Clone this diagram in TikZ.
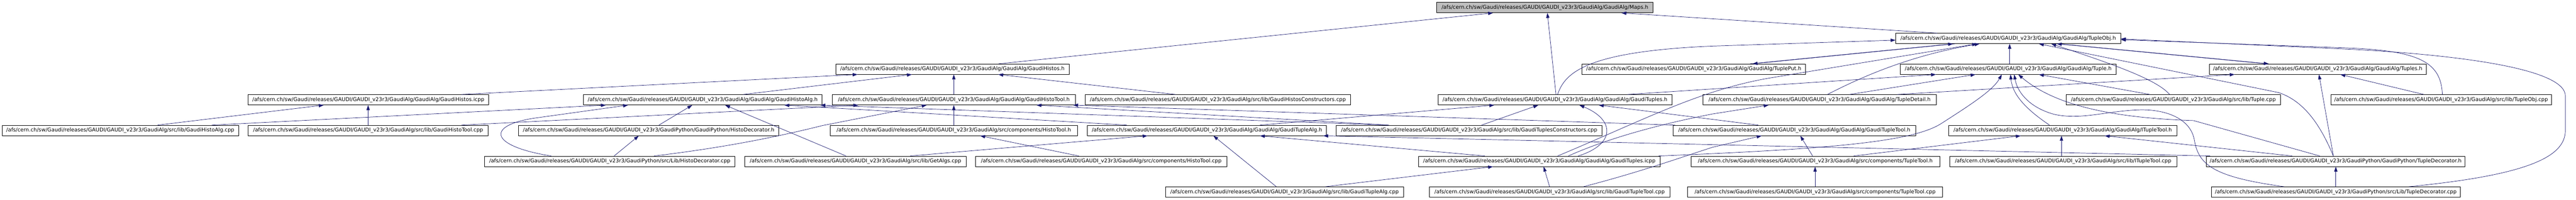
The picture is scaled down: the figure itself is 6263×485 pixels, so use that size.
\documentclass[tikz,border=0pt]{standalone}
\usepackage{fontspec}
\setmainfont{DejaVu Sans}
\usetikzlibrary{arrows.meta}
\definecolor{edgeblue}{RGB}{25,25,112}
\definecolor{mapsgray}{RGB}{191,191,191}
\newcommand{\gpre}{/afs/cern.ch/sw/Gaudi/releases/GAUDI/GAUDI\_v23r3/}
\begin{document}
\begin{tikzpicture}[x=1pt,y=-1pt,
  box/.style={draw=black, line width=0.9pt, fill=white, minimum height=25pt,
    inner xsep=8pt, inner ysep=0pt, font=\fontsize{12.7}{15}\selectfont, text=black},
  edge/.style={draw=edgeblue, line width=0.9pt, -{Triangle[length=12pt,width=8pt]}}]
\fill[white] (0,0) rectangle (6263,485);
\useasboundingbox (0,0) rectangle (6263,485);

% row 0
\node[box, fill=mapsgray, minimum width=526pt] (maps) at (3756,18.5) {\gpre GaudiAlg/GaudiAlg/Maps.h};
% row 1
\node[box, minimum width=547pt] (tobjh) at (4882.5,93.5) {\gpre GaudiAlg/GaudiAlg/TupleObj.h};
% row 2
\node[box, minimum width=567pt] (histosh) at (2315.5,168) {\gpre GaudiAlg/GaudiAlg/GaudiHistos.h};
\node[box, minimum width=544pt] (tputh) at (4118,168) {\gpre GaudiAlg/GaudiAlg/TuplePut.h};
\node[box, minimum width=525pt] (tupleh) at (4882.5,168) {\gpre GaudiAlg/GaudiAlg/Tuple.h};
\node[box, minimum width=528pt] (tuplesh) at (5635,168) {\gpre GaudiAlg/GaudiAlg/Tuples.h};
% row 3
\node[box, minimum width=585pt] (hicpp) at (895.5,242.5) {\gpre GaudiAlg/GaudiAlg/GaudiHistos.icpp};
\node[box, minimum width=579pt] (halgh) at (1708.5,242.5) {\gpre GaudiAlg/GaudiAlg/GaudiHistoAlg.h};
\node[box, minimum width=592pt] (htoolh) at (2319,242.5) {\gpre GaudiAlg/GaudiAlg/GaudiHistoTool.h};
\node[box, minimum width=644pt] (hcons) at (2961,242.5) {\gpre GaudiAlg/src/lib/GaudiHistosConstructors.cpp};
\node[box, minimum width=569pt] (gtuplesh) at (3780.5,242.5) {\gpre GaudiAlg/GaudiAlg/GaudiTuples.h};
\node[box, minimum width=568pt] (tdet) at (4424,242.5) {\gpre GaudiAlg/GaudiAlg/TupleDetail.h};
\node[box, minimum width=522pt] (tcpp) at (5284,242.5) {\gpre GaudiAlg/src/lib/Tuple.cpp};
\node[box, minimum width=532pt] (tobjcpp) at (5935,242.5) {\gpre GaudiAlg/src/lib/TupleObj.cpp};
% row 4
\node[box, minimum width=575pt] (halgcpp) at (292.5,317) {\gpre GaudiAlg/src/lib/GaudiHistoAlg.cpp};
\node[box, minimum width=584pt] (htoolcpp) at (895,317) {\gpre GaudiAlg/src/lib/GaudiHistoTool.cpp};
\node[box, minimum width=632pt] (hdech) at (1577,317) {\gpre GaudiPython/GaudiPython/HistoDecorator.h};
\node[box, minimum width=602pt] (htoolc) at (2319,317) {\gpre GaudiAlg/src/components/HistoTool.h};
\node[box, minimum width=581pt] (talgh) at (2934.5,317) {\gpre GaudiAlg/GaudiAlg/GaudiTupleAlg.h};
\node[box, minimum width=646pt] (tcons) at (3572,317) {\gpre GaudiAlg/src/lib/GaudiTuplesConstructors.cpp};
\node[box, minimum width=589pt] (ttoolh) at (4362.5,317) {\gpre GaudiAlg/GaudiAlg/GaudiTupleTool.h};
\node[box, minimum width=554pt] (itth) at (5015,317) {\gpre GaudiAlg/GaudiAlg/ITupleTool.h};
% row 5
\node[box, minimum width=609pt] (hdeccpp) at (1482.5,392) {\gpre GaudiPython/src/Lib/HistoDecorator.cpp};
\node[box, minimum width=538pt] (getalgs) at (2080,392) {\gpre GaudiAlg/src/lib/GetAlgs.cpp};
\node[box, minimum width=611pt] (htoolcompcpp) at (2677.5,392) {\gpre GaudiAlg/src/components/HistoTool.cpp};
\node[box, minimum width=587pt] (tuplesicpp) at (3742.5,392) {\gpre GaudiAlg/GaudiAlg/GaudiTuples.icpp};
\node[box, minimum width=605pt] (ttoolcomph) at (4413.5,392) {\gpre GaudiAlg/src/components/TupleTool.h};
\node[box, minimum width=552pt] (ittcpp) at (5016,392) {\gpre GaudiAlg/src/lib/ITupleTool.cpp};
\node[box, minimum width=627pt] (tdech) at (5678.5,392) {\gpre GaudiPython/GaudiPython/TupleDecorator.h};
% row 6
\node[box, minimum width=578pt] (talgcpp) at (3123,466.5) {\gpre GaudiAlg/src/lib/GaudiTupleAlg.cpp};
\node[box, minimum width=585pt] (ttoolcpp) at (3767.5,466.5) {\gpre GaudiAlg/src/lib/GaudiTupleTool.cpp};
\node[box, minimum width=620pt] (ttoolcompcpp) at (4413,466.5) {\gpre GaudiAlg/src/components/TupleTool.cpp};
\node[box, minimum width=604pt] (tdeccpp) at (5679,466.5) {\gpre GaudiPython/src/Lib/TupleDecorator.cpp};

% edges to Maps.h
\draw[edge] ([xshift=112.5pt]histosh.north) -- ([xshift=-126pt]maps.south);
\draw[edge] ([xshift=2.5pt]gtuplesh.north) -- ([xshift=6pt]maps.south);
\draw[edge] ([xshift=-172.5pt]tobjh.north) -- ([xshift=186pt]maps.south);
% edges to TupleObj.h
\draw[edge] ([xshift=6.5pt]gtuplesh.north) .. controls (3805,175) and (3860,125) .. (4163,112) -- ([yshift=-4pt]tobjh.west);
\draw[edge] ([xshift=3.5pt]tupleh.north) -- ([xshift=3.5pt]tobjh.south);
\draw[edge] ([xshift=137pt]tputh.north) -- ([xshift=-134pt]tobjh.south);
\draw[edge] ([xshift=-129pt]tobjh.south) -- ([xshift=143pt]tputh.north);
\draw[edge] ([xshift=-124pt]tuplesh.north) -- ([xshift=118pt]tobjh.south);
\draw[edge] ([xshift=123pt]tobjh.south) -- ([xshift=-119pt]tuplesh.north);
\draw[edge] ([xshift=19pt]tdet.north) .. controls (4520,190) and (4640,135) .. ([xshift=-69.5pt]tobjh.south);
\draw[edge] ([xshift=44.5pt]tuplesicpp.north) .. controls (4000,290) and (4130,220) .. (4300,190) -- ([xshift=-75.5pt]tobjh.south);
\draw[edge] ([xshift=-9pt]tcpp.north) .. controls (5245,195) and (5150,160) .. ([xshift=104.5pt]tobjh.south);
\draw[edge] ([xshift=-5.5pt]tdech.north) .. controls (5640,300) and (5600,245) .. (5540,225) -- ([xshift=74.5pt]tobjh.south);
\draw[edge] ([xshift=3pt]tobjcpp.north) .. controls (5935,150) and (5880,125) .. (5720,117) -- ([yshift=-3pt]tobjh.east);
\draw[edge] ([xshift=178pt]tdeccpp.north) .. controls (6150,425) and (6237,380) .. (6237,317) -- (6237,233) .. controls (6237,170) and (6000,135) .. (5720,120) -- ([yshift=-1pt]tobjh.east);
% edges to Tuple.h
\draw[edge] ([xshift=176.5pt]gtuplesh.north) -- ([xshift=-175.5pt]tupleh.south);
\draw[edge] ([xshift=73pt]tdet.north) -- ([xshift=-79.5pt]tupleh.south);
\draw[edge] ([xshift=290pt]tuplesicpp.north) .. controls (4450,362) and (4650,345) .. (4720,300) .. controls (4790,255) and (4845,220) .. ([xshift=-15.5pt]tupleh.south);
\draw[edge] ([xshift=-32pt]itth.north) .. controls (4925,265) and (4893,230) .. ([xshift=5.5pt]tupleh.south);
\draw[edge] ([xshift=-38.5pt]tdech.north) -- (5333,293) .. controls (5150,287) and (5000,260) .. ([xshift=24.5pt]tupleh.south);
\draw[edge] ([xshift=-126pt]tdeccpp.north) .. controls (5380,430) and (5345,400) .. (5335,340) .. controls (5325,285) and (5260,265) .. (5200,267) .. controls (5120,270) and (5060,292) .. (4995,278) .. controls (4935,262) and (4905,225) .. ([xshift=14.5pt]tupleh.south);
\draw[edge] ([xshift=-57pt]tcpp.north) -- ([xshift=74.5pt]tupleh.south);
% edges to Tuples.h
\draw[edge] ([xshift=189pt]tdet.north) -- ([xshift=-202pt]tuplesh.south);
\draw[edge] ([xshift=-42pt]tobjcpp.north) -- ([xshift=55pt]tuplesh.south);
\draw[edge] ([xshift=-5.5pt]tdech.north) -- ([xshift=3pt]tuplesh.south);
% edges to GaudiHistos.h
\draw[edge] ([xshift=226.5pt]hicpp.north) -- ([xshift=-230.5pt]histosh.south);
\draw[edge] ([xshift=98.5pt]halgh.north) -- ([xshift=-98.5pt]histosh.south);
\draw[edge] (htoolh.north) -- ([xshift=3.5pt]histosh.south);
\draw[edge] ([xshift=-103pt]hcons.north) -- ([xshift=111.5pt]histosh.south);
% edges to GaudiHistos.icpp
\draw[edge] ([xshift=90.5pt]halgcpp.north) -- ([xshift=-108.5pt]hicpp.south);
\draw[edge] (htoolcpp.north) -- ([xshift=-0.5pt]hicpp.south);
% edges to GaudiHistoAlg.h
\draw[edge] ([xshift=222.5pt]halgcpp.north) -- ([xshift=-235.5pt]halgh.south);
\draw[edge] ([xshift=-142.5pt]hdeccpp.north) .. controls (1190,355) and (1180,305) .. (1300,287) -- ([xshift=-181.5pt]halgh.south);
\draw[edge] ([xshift=25pt]hdech.north) -- ([xshift=-25.5pt]halgh.south);
\draw[edge] ([xshift=-23pt]getalgs.north) -- ([xshift=54.5pt]halgh.south);
\draw[edge] ([xshift=-194.5pt]talgh.north) -- ([xshift=198.5pt]halgh.south);
\draw[edge] ([xshift=-199pt]tcons.north) -- ([xshift=286pt]halgh.south);
% edges to HistoDecorator.h
\draw[edge] ([xshift=10.5pt]hdeccpp.north) -- ([xshift=-24pt]hdech.south);
% edges to GaudiHistoTool.h
\draw[edge] ([xshift=227pt]htoolcpp.north) -- ([xshift=-232pt]htoolh.south);
\draw[edge] ([xshift=107.5pt]hdeccpp.north) .. controls (1750,360) and (1880,335) .. (2000,305) -- ([xshift=-66pt]htoolh.south);
\draw[edge] (htoolc.north) -- (htoolh.south);
\draw[edge] ([xshift=-195pt]tcons.north) -- ([xshift=201pt]htoolh.south);
\draw[edge] ([xshift=-290pt]ttoolh.north) -- ([xshift=290pt]htoolh.south);
% edges to HistoTool.h
\draw[edge] ([xshift=-54.5pt]htoolcompcpp.north) -- ([xshift=64pt]htoolc.south);
% edges to GaudiTupleAlg.h
\draw[edge] ([xshift=133pt]getalgs.north) -- ([xshift=-144.5pt]talgh.south);
\draw[edge] ([xshift=-20pt]talgcpp.north) -- ([xshift=15.5pt]talgh.south);
\draw[edge] ([xshift=-132.5pt]tuplesicpp.north) -- ([xshift=128.5pt]talgh.south);
\draw[edge] ([xshift=-305pt]tdech.north) -- ([xshift=282.5pt]talgh.south);
% edges to GaudiTuples.h
\draw[edge] ([xshift=128.5pt]talgh.north) -- ([xshift=-147.5pt]gtuplesh.south);
\draw[edge] ([xshift=30pt]tcons.north) -- ([xshift=-40.5pt]gtuplesh.south);
\draw[edge] ([xshift=94.5pt]tuplesicpp.north) .. controls (3930,350) and (3925,290) .. ([xshift=59.5pt]gtuplesh.south);
\draw[edge] ([xshift=-87.5pt]ttoolh.north) -- ([xshift=106.5pt]gtuplesh.south);
% edges to TupleDetail.h
\draw[edge] ([xshift=70.5pt]tuplesicpp.north) .. controls (3900,340) and (4020,305) .. (4163,277) -- ([xshift=-124pt]tdet.south);
% edges to GaudiTuples.icpp
\draw[edge] ([xshift=100pt]talgcpp.north) -- ([xshift=-112.5pt]tuplesicpp.south);
\draw[edge] (ttoolcpp.north) -- ([xshift=10.5pt]tuplesicpp.south);
% edges to GaudiTupleTool.h
\draw[edge] ([xshift=82.5pt]ttoolcpp.north) .. controls (3980,420) and (4080,385) .. (4163,358) -- ([xshift=-79.5pt]ttoolh.south);
\draw[edge] ([xshift=-6.5pt]ttoolcomph.north) -- ([xshift=14.5pt]ttoolh.south);
% edges to ITupleTool.h
\draw[edge] ([xshift=93.5pt]ttoolcomph.north) -- ([xshift=-102pt]itth.south);
\draw[edge] ([xshift=-4pt]ittcpp.north) -- ([xshift=-3pt]itth.south);
\draw[edge] ([xshift=-105.5pt]tdech.north) -- ([xshift=102pt]itth.south);
% edges to TupleTool.h and TupleDecorator.h
\draw[edge] (ttoolcompcpp.north) -- ([xshift=-0.5pt]ttoolcomph.south);
\draw[edge] (tdeccpp.north) -- ([xshift=0.5pt]tdech.south);
\end{tikzpicture}
\end{document}
